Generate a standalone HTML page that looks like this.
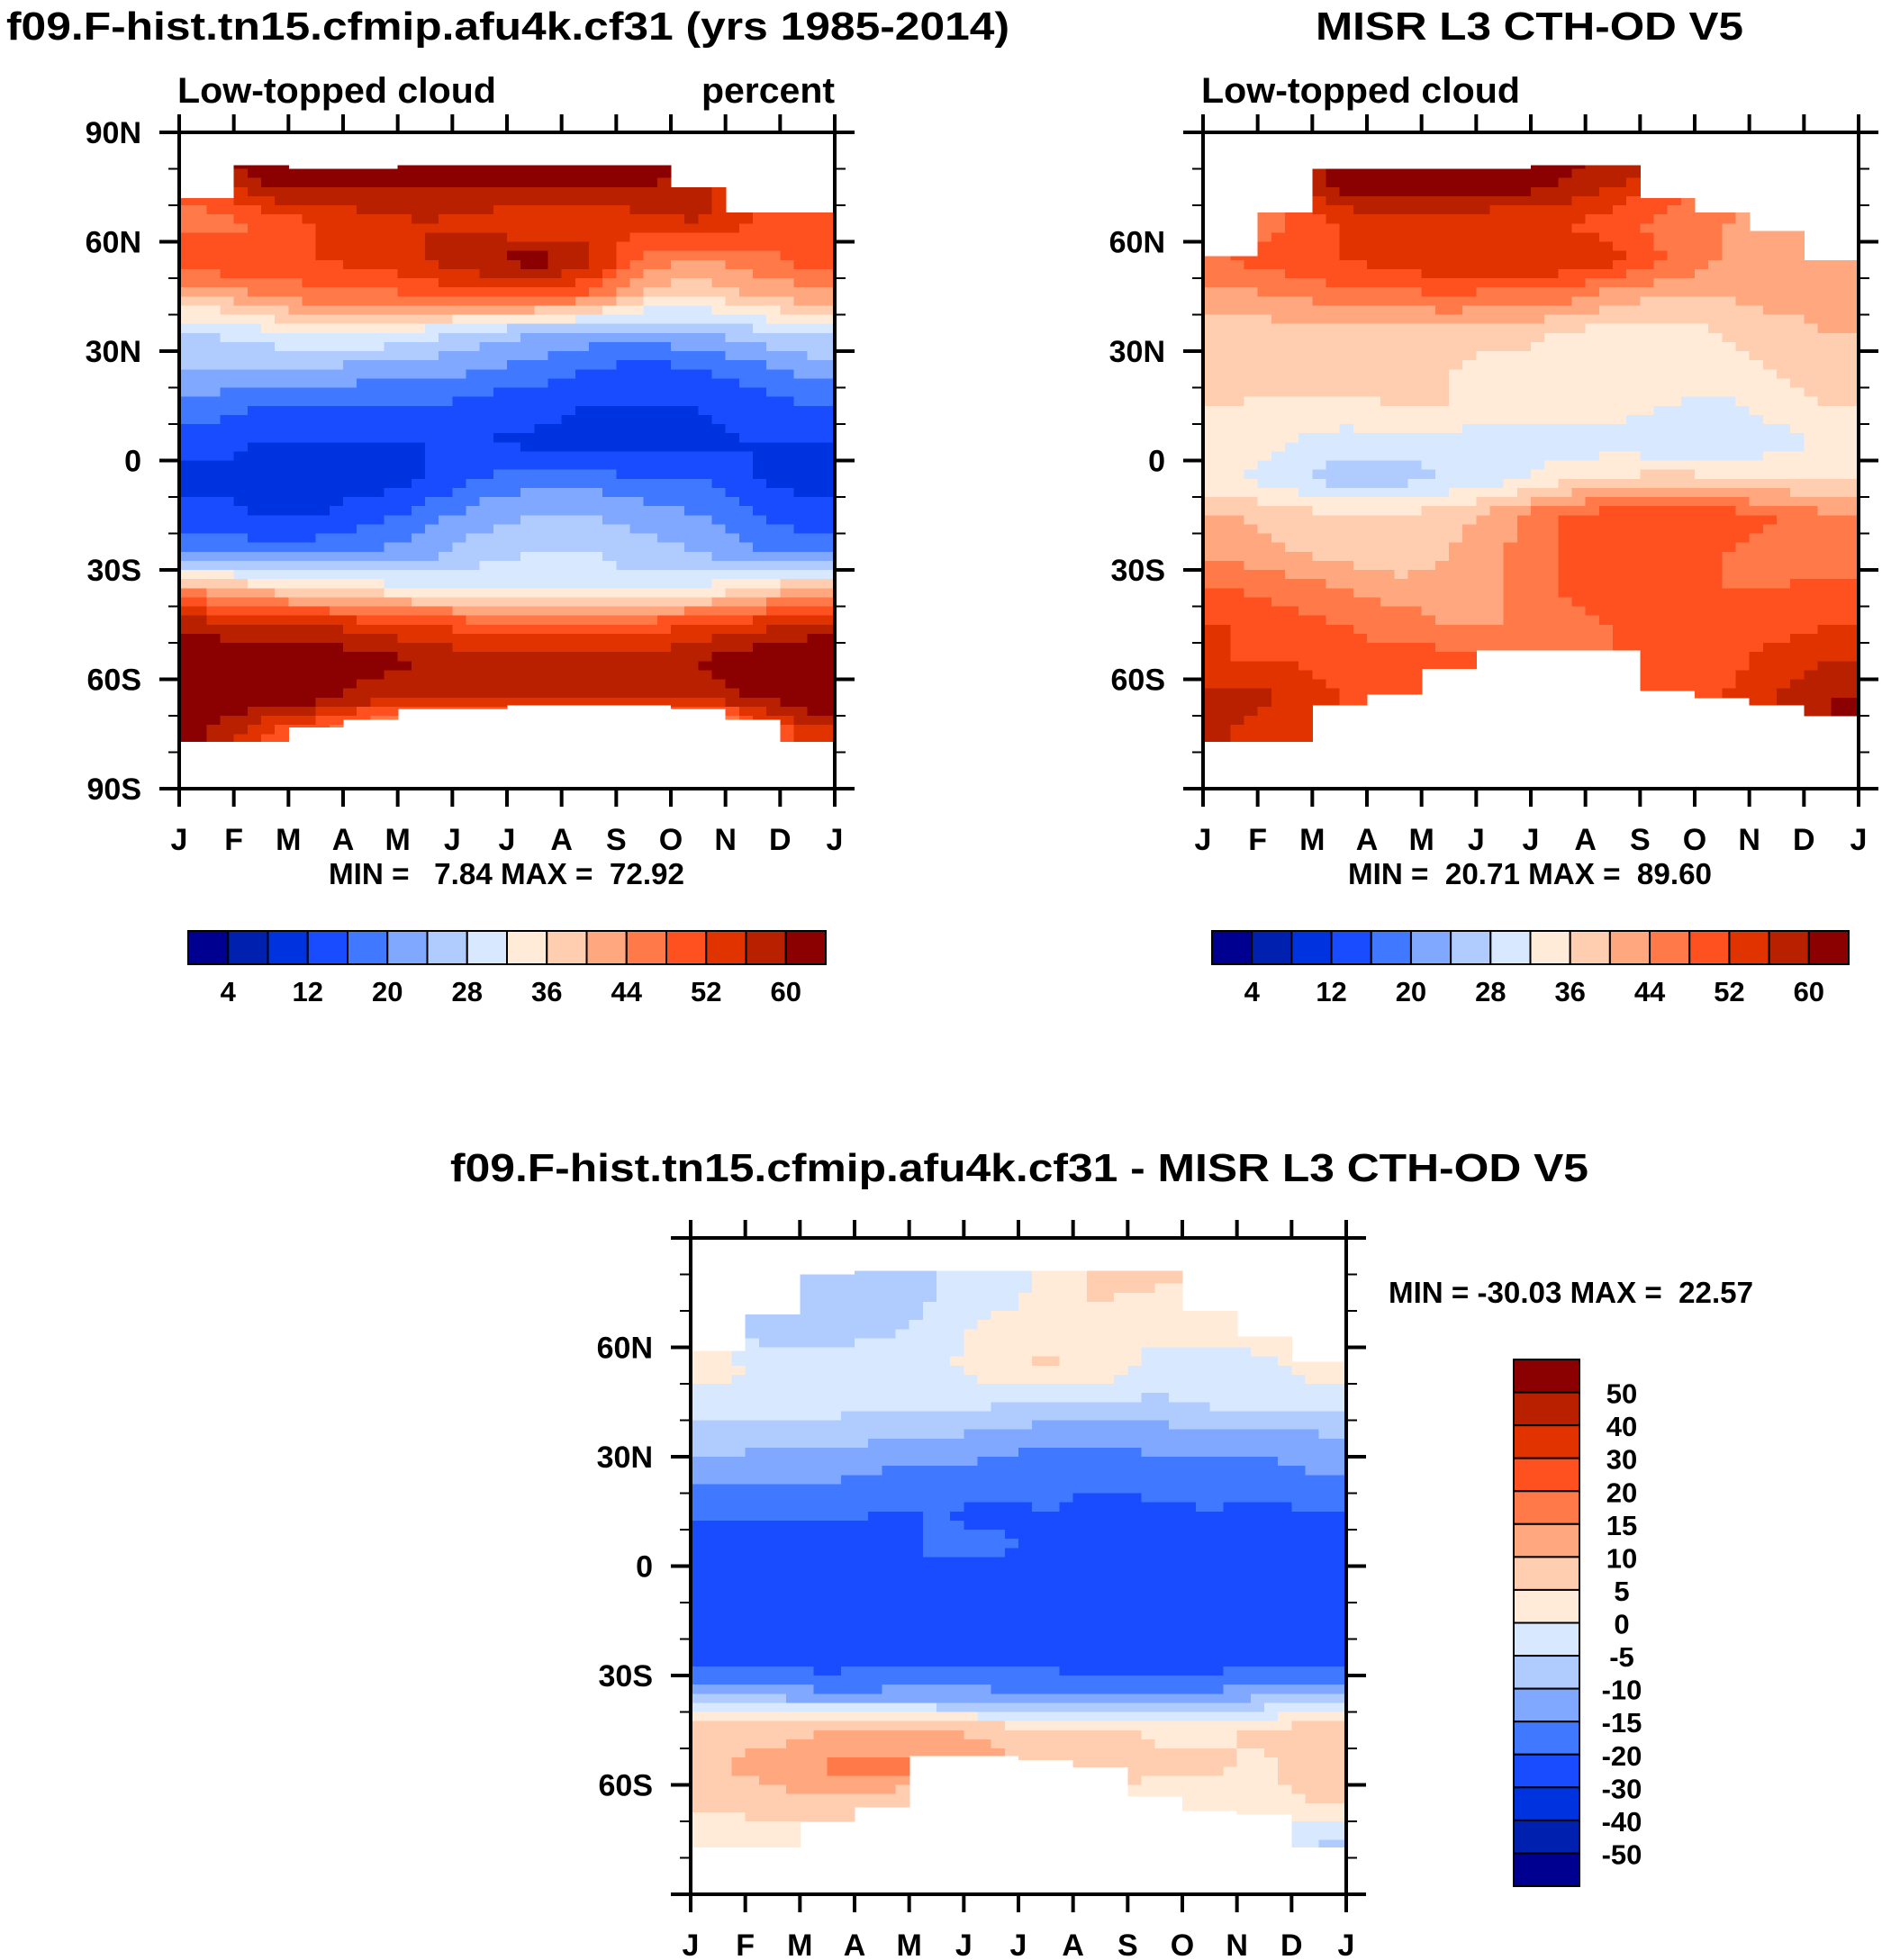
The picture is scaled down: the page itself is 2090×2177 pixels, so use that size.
<!DOCTYPE html>
<html><head><meta charset="utf-8">
<style>
html,body{margin:0;padding:0;background:#fff;}
svg{display:block;font-family:"Liberation Sans",Arial,sans-serif;font-weight:bold;}
</style></head>
<body>
<svg id="chart" width="2090" height="2177" viewBox="0 0 2090 2177" xmlns="http://www.w3.org/2000/svg">
<rect width="2090" height="2177" fill="#fff"/>
<text x="7" y="44" font-size="44" textLength="1114" lengthAdjust="spacingAndGlyphs">f09.F-hist.tn15.cfmip.afu4k.cf31 (yrs 1985-2014)</text>
<text x="1461" y="44" font-size="44" textLength="475" lengthAdjust="spacingAndGlyphs">MISR L3 CTH-OD V5</text>
<text x="500" y="1312" font-size="44" textLength="1264" lengthAdjust="spacingAndGlyphs">f09.F-hist.tn15.cfmip.afu4k.cf31 - MISR L3 CTH-OD V5</text>
<text x="197" y="114" font-size="40" textLength="354" lengthAdjust="spacingAndGlyphs">Low-topped cloud</text>
<text x="779" y="114" font-size="40" textLength="148" lengthAdjust="spacingAndGlyphs">percent</text>
<text x="1334" y="114" font-size="40" textLength="354" lengthAdjust="spacingAndGlyphs">Low-topped cloud</text>
<text x="365" y="982" font-size="33" textLength="395" lengthAdjust="spacingAndGlyphs" xml:space="preserve">MIN =   7.84 MAX =  72.92</text>
<text x="1497" y="982" font-size="33" textLength="404" lengthAdjust="spacingAndGlyphs" xml:space="preserve">MIN =  20.71 MAX =  89.60</text>
<text x="1542" y="1447" font-size="33" textLength="405" lengthAdjust="spacingAndGlyphs" xml:space="preserve">MIN = -30.03 MAX =  22.57</text>
<g id="layer"></g>
</svg>
<script>
// ---- data ----
const months = ["J","F","M","A","M","J","J","A","S","O","N","D","J"];
const latBins = [85,75,65,55,45,35,25,15,5,-5,-15,-25,-35,-45,-55,-65,-75,-85];
const absLevels = [4,8,12,16,20,24,28,32,36,40,44,48,52,56,60];
const absLabels = ["4","12","20","28","36","44","52","60"];
const diffLevels = [-50,-40,-30,-20,-15,-10,-5,0,5,10,15,20,30,40,50];
const diffLabels = ["50","40","30","20","15","10","5","0","-5","-10","-15","-20","-30","-40","-50"];
const colors = ['#000090','#0020b0','#0033e0','#1a4cff','#4078ff','#80a8ff','#b0ccff','#d8e8ff','#ffebd8','#ffcdb0','#ffa880','#ff7a48','#ff5020','#e03300','#b82000','#8b0000'];

const modelNorth = [72,81,80,80,81,81,81,81,81,75,68,68];
const modelSouth = [-77,-77,-73,-71,-68,-68,-67,-67,-67,-68,-71,-77];
const modelVals = [
 [64,64,64,64,64,64,64,64,64,64,64,64],
 [50,60,60,60,60,60,60,60,60,58,50,50],
 [46,48,52,54,56,54,52,52,54,56,52,48],
 [52,52,52,54,56,60,62,58,46,44,46,50],
 [40,44,46,46,48,50,50,46,38,36,40,42],
 [28,30,32,32,30,26,24,22,22,24,26,28],
 [24,24,24,22,22,20,18,16,14,16,18,22],
 [18,16,16,16,16,14,14,12,12,12,14,16],
 [14,12,12,12,12,12,11,9,10,10,12,12],
 [10,10,10,10,12,16,18,18,16,16,12,10],
 [14,12,12,14,18,22,24,24,22,20,16,14],
 [18,18,18,20,22,26,28,28,26,24,20,18],
 [42,38,36,34,32,32,30,30,30,32,36,40],
 [58,56,56,54,52,50,50,50,50,52,54,58],
 [64,64,64,62,60,58,58,58,58,60,64,64],
 [64,64,62,58,56,56,56,56,56,56,60,64],
 [60,52,46,40,30,30,30,30,30,30,44,54],
 [60,52,46,40,30,30,30,30,30,30,44,54]
];
const obsNorth = [56,68,80,80,80,80,81,81,72,68,63,55];
const obsSouth = [-77,-77,-67,-64,-57,-52,-52,-52,-63,-65,-67,-70];
const obsVals = [
 [62,62,62,62,62,62,62,62,62,62,62,62],
 [44,50,62,62,62,62,60,56,50,46,44,44],
 [44,48,52,54,54,52,52,50,46,44,42,42],
 [48,50,52,54,56,56,56,54,48,44,44,44],
 [42,44,46,46,48,46,46,42,40,40,42,42],
 [38,38,38,38,38,38,36,34,34,36,38,40],
 [38,38,38,38,36,34,34,33,34,34,36,38],
 [36,35,35,36,36,34,34,34,32,31,34,36],
 [34,32,30,30,30,30,30,30,28,28,30,33],
 [32,30,26,26,28,30,34,36,38,36,36,36],
 [40,38,36,36,38,42,48,50,52,50,48,44],
 [42,40,38,36,40,44,48,50,50,48,46,44],
 [48,46,44,42,42,44,48,50,48,48,48,50],
 [52,50,48,46,44,44,46,48,48,48,50,52],
 [52,52,50,50,50,50,46,48,50,50,54,56],
 [58,56,52,50,50,50,50,50,50,52,56,60],
 [56,52,52,50,50,50,50,50,50,52,56,60],
 [56,52,52,50,50,50,50,50,50,52,56,60]
];
const diffNorth = [59,69,80,81,81,81,81,81,81,70,63,56];
const diffSouth = [-77,-77,-70,-66,-52,-52,-53,-55,-63,-67,-68,-77];
const diffVals = [
 [-8,-10,-10,-8,-5,-4,2,6,12,2,2,2],
 [-2,-10,-10,-8,-5,-4,2,6,4,2,2,2],
 [-2,-8,-8,-6,-4,2,2,2,2,2,4,2],
 [2,-2,-2,-2,-2,4,6,4,-2,-3,-2,4],
 [-2,-3,-3,-3,-3,-4,-4,-5,-6,-4,-4,-3],
 [-7,-8,-8,-10,-10,-12,-14,-14,-13,-12,-12,-11],
 [-14,-14,-14,-16,-16,-18,-18,-18,-18,-18,-18,-15],
 [-19,-19,-19,-20,-20,-21,-20,-22,-21,-20,-21,-20],
 [-22,-22,-22,-22,-19,-19,-21,-21,-22,-21,-22,-22],
 [-22,-22,-22,-22,-22,-22,-22,-23,-25,-24,-23,-22],
 [-24,-24,-24,-22,-24,-25,-24,-26,-25,-24,-24,-24],
 [-24,-24,-24,-22,-21,-22,-22,-24,-24,-24,-24,-24],
 [-10,-12,-14,-14,-14,-14,-16,-16,-16,-14,-12,-10],
 [8,8,10,10,10,8,6,6,4,4,6,8],
 [10,12,16,17,18,14,8,8,6,6,4,10],
 [6,8,8,6,4,4,4,4,2,2,2,6],
 [2,2,2,2,2,2,2,2,2,2,2,-6],
 [2,2,2,2,2,2,2,2,2,2,2,2]
];

// ---- drawing ----
const NS = "http://www.w3.org/2000/svg";
const layer = document.getElementById('layer');
function mk(tag, attrs, parent){
  const e = document.createElementNS(NS, tag);
  for (const k in attrs) e.setAttribute(k, attrs[k]);
  (parent||layer).appendChild(e);
  return e;
}
function colorFor(v, levels){
  let i = 0;
  while (i < levels.length && v >= levels[i]) i++;
  return colors[i];
}
// bilinear sample of the gridded values at fractional month mf (0..12) and latitude
function sample(vals, mf, lat){
  let c = mf - 0.5; c = Math.max(0, Math.min(11, c));
  let r = (85 - lat) / 10; r = Math.max(0, Math.min(latBins.length - 1, r));
  const c0 = Math.floor(c), c1 = Math.min(11, c0 + 1), fc = c - c0;
  const r0 = Math.floor(r), r1 = Math.min(latBins.length - 1, r0 + 1), fr = r - r0;
  const a = vals[r0][c0]*(1-fc) + vals[r0][c1]*fc;
  const b = vals[r1][c0]*(1-fc) + vals[r1][c1]*fc;
  return a*(1-fr) + b*fr;
}

function drawPanel(p){
  const W = p.x1 - p.x0, H = p.y1 - p.y0;
  const xs = m => p.x0 + m * W / 12;
  const ys = lat => p.y0 + (90 - lat) / 180 * H;
  const g = mk('g', {});
  
  
  const cells = mk('g', {'shape-rendering':'crispEdges'}, g);
  
  
  const SUB = 4, LSTEP = 2.5;
  for (let m = 0; m < 12; m++){
    for (let s = 0; s < SUB; s++){
      const mf0 = m + s / SUB, mf1 = m + (s + 1) / SUB;
      for (let lat = 90; lat > -90; lat -= LSTEP){
        let top = Math.min(lat, p.north[m]);
        let bot = Math.max(lat - LSTEP, p.south[m]);
        if (top <= bot) continue;
        const v = sample(p.vals, (mf0 + mf1) / 2, (top + bot) / 2);
        const rc = mk('rect', {x: xs(mf0), y: ys(top), width: xs(mf1) - xs(mf0) + 0.6, height: ys(bot) - ys(top) + 0.6, fill: colorFor(v, p.levels)}, cells);
        
        
      }
    }
  }
  const fr = mk('rect', {x:p.x0, y:p.y0, width:W, height:H, fill:'none', stroke:'#000', 'stroke-width':4}, g);
  
  
  for (let m = 0; m <= 12; m++){
    const x = xs(m);
    mk('line', {x1:x, y1:p.y0, x2:x, y2:p.y0-20, stroke:'#000','stroke-width':4}, g);
    mk('line', {x1:x, y1:p.y1, x2:x, y2:p.y1+20, stroke:'#000','stroke-width':4}, g);
    const t = mk('text', {x:x, y:p.y1+68, 'font-size':34, 'text-anchor':'middle'}, g);
    
    
    t.textContent = months[m];
  }
  for (let lat = -90; lat <= 90; lat += 10){
    const y = ys(lat);
    const major = lat % 30 === 0;
    const L = major ? 22 : 12;
    mk('line', {x1:p.x0, y1:y, x2:p.x0-L, y2:y, stroke:'#000','stroke-width':major?4:2}, g);
    mk('line', {x1:p.x1, y1:y, x2:p.x1+L, y2:y, stroke:'#000','stroke-width':major?4:2}, g);
    if (major && (p.poles || Math.abs(lat) < 90)){
      const t = mk('text', {x:p.x0-42, y:y+12, 'font-size':34, 'text-anchor':'end'}, g);
      
      
      t.textContent = lat === 0 ? '0' : Math.abs(lat) + (lat > 0 ? 'N' : 'S');
    }
  }
}

function hColorbar(x0, x1, y0, y1, name){
  const g = mk('g', {});
  
  
  const w = (x1 - x0) / 16;
  for (let i = 0; i < 16; i++){
    const r = mk('rect', {x:x0+i*w, y:y0, width:w, height:y1-y0, fill:colors[i], stroke:'#000','stroke-width':2}, g);
    
    
  }
  for (let k = 0; k < absLabels.length; k++){
    const t = mk('text', {x:x0+(1+2*k)*w, y:y1+41, 'font-size':31, 'text-anchor':'middle'}, g);
    
    
    t.textContent = absLabels[k];
  }
}
function vColorbar(x0, x1, y0, y1, name){
  const g = mk('g', {});
  
  
  const h = (y1 - y0) / 16;
  for (let i = 0; i < 16; i++){
    const r = mk('rect', {x:x0, y:y0+i*h, width:x1-x0, height:h, fill:colors[15-i], stroke:'#000','stroke-width':2}, g);
    
    
  }
  for (let k = 0; k < diffLabels.length; k++){
    const t = mk('text', {x:x1+47, y:y0+(k+1)*h+12, 'font-size':31, 'text-anchor':'middle'}, g);
    
    
    t.textContent = diffLabels[k];
  }
}

drawPanel({name:'model', x0:199, x1:927, y0:147, y1:876, vals:modelVals, north:modelNorth, south:modelSouth, levels:absLevels, poles:true});
drawPanel({name:'obs', x0:1336, x1:2064, y0:147, y1:876, vals:obsVals, north:obsNorth, south:obsSouth, levels:absLevels, poles:false});
drawPanel({name:'diff', x0:767, x1:1495, y0:1375, y1:2104, vals:diffVals, north:diffNorth, south:diffSouth, levels:diffLevels, poles:false});
hColorbar(209, 917, 1034, 1071, 'model-colorbar');
hColorbar(1346, 2053, 1034, 1071, 'obs-colorbar');
vColorbar(1681, 1754, 1510, 2095, 'diff-colorbar');
</script>
</body></html>
